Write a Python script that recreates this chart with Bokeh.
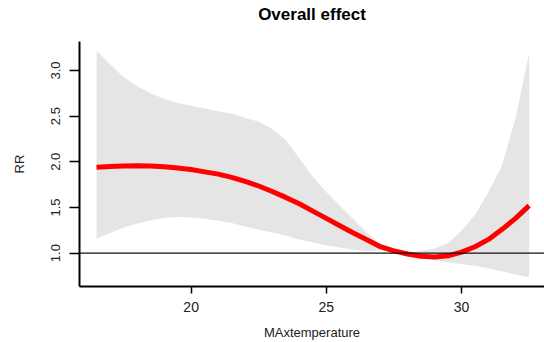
from bokeh.plotting import figure
from bokeh.models import Range1d, FixedTicker, Span, NumeralTickFormatter, ColumnDataSource
from bokeh.embed import file_html
from bokeh.resources import INLINE

temp = [16.5, 17, 17.5, 18, 18.5, 19, 19.5, 20, 20.5, 21, 21.5, 22, 22.5, 23, 23.5, 24,
        24.5, 25, 25.5, 26, 26.5, 27, 27.5, 28, 28.5, 29, 29.5, 30, 30.5, 31, 31.5, 32, 32.5]
rr = [1.94, 1.948, 1.953, 1.956, 1.955, 1.945, 1.932, 1.915, 1.89, 1.865, 1.83, 1.785, 1.735,
      1.675, 1.61, 1.54, 1.46, 1.38, 1.30, 1.22, 1.145, 1.07, 1.025, 0.99, 0.965, 0.958, 0.97,
      1.01, 1.07, 1.15, 1.26, 1.38, 1.52]
rr_low = [1.16, 1.22, 1.28, 1.325, 1.36, 1.385, 1.395, 1.39, 1.375, 1.355, 1.33, 1.29, 1.255,
          1.225, 1.19, 1.15, 1.115, 1.085, 1.06, 1.04, 1.02, 1.03, 1.005, 0.98, 0.955, 0.925,
          0.90, 0.88, 0.86, 0.83, 0.80, 0.765, 0.735]
rr_high = [3.22, 3.07, 2.93, 2.83, 2.75, 2.69, 2.645, 2.615, 2.585, 2.555, 2.53, 2.48, 2.44,
           2.36, 2.24, 2.04, 1.835, 1.67, 1.515, 1.37, 1.22, 1.10, 1.04, 1.005, 1.025, 1.05,
           1.11, 1.245, 1.42, 1.67, 1.96, 2.48, 3.18]
x_ticks = [20, 25, 30]
y_ticks = [1.0, 1.5, 2.0, 2.5, 3.0]
title_text = "Overall effect"

src = ColumnDataSource(dict(x=temp, y=rr, lo=rr_low, hi=rr_high))

FONT = "Liberation Sans"

p = figure(width=544, height=342, output_backend="svg", toolbar_location=None,
           x_range=Range1d(15.87, 33.07), y_range=Range1d(0.634, 3.318),
           min_border_left=79, min_border_right=0, min_border_top=41, min_border_bottom=54,
           title=title_text + "\n")

p.varea(x="x", y1="lo", y2="hi", source=src, fill_color="#E5E5E5")
p.add_layout(Span(location=1.0, dimension="width", line_color="#111111", line_width=1.3))
p.line(x="x", y="y", source=src, line_color="#FF0000", line_width=5)

p.grid.visible = False
p.outline_line_color = None
p.background_fill_color = "white"
p.border_fill_color = "white"

p.title.align = "center"
p.title.vertical_align = "bottom"
p.title.standoff = 2
p.title.text_line_height = 0.85
p.title.text_font = FONT
p.title.text_font_size = "17px"
p.title.text_font_style = "bold"
p.title.text_color = "black"

xa = p.xaxis[0]
xa.ticker = FixedTicker(ticks=x_ticks)
xa.minor_tick_line_color = None
xa.major_tick_in = 0
xa.major_tick_out = 7
xa.axis_line_width = 2
xa.major_tick_line_width = 1.5
xa.major_label_standoff = 8
xa.major_label_text_font = FONT
xa.major_label_text_font_size = "14px"
xa.major_label_text_color = "#222222"
xa.axis_label = "MAxtemperature"
xa.axis_label_standoff = 10
xa.axis_label_text_font = FONT
xa.axis_label_text_font_size = "13px"
xa.axis_label_text_font_style = "normal"
xa.axis_label_text_color = "#222222"

ya = p.yaxis[0]
ya.ticker = FixedTicker(ticks=y_ticks)
ya.formatter = NumeralTickFormatter(format="0.0")
ya.minor_tick_line_color = None
ya.major_tick_in = 0
ya.major_tick_out = 10
ya.axis_line_width = 2
ya.major_tick_line_width = 1.5
ya.major_label_orientation = "vertical"
ya.major_label_standoff = 9
ya.major_label_text_font = FONT
ya.major_label_text_font_size = "13px"
ya.major_label_text_color = "#222222"
ya.axis_label = "RR"
ya.axis_label_standoff = 22
ya.axis_label_text_font = FONT
ya.axis_label_text_font_size = "13px"
ya.axis_label_text_font_style = "normal"
ya.axis_label_text_color = "#222222"

open("out.html", "w").write(file_html(p, INLINE))
